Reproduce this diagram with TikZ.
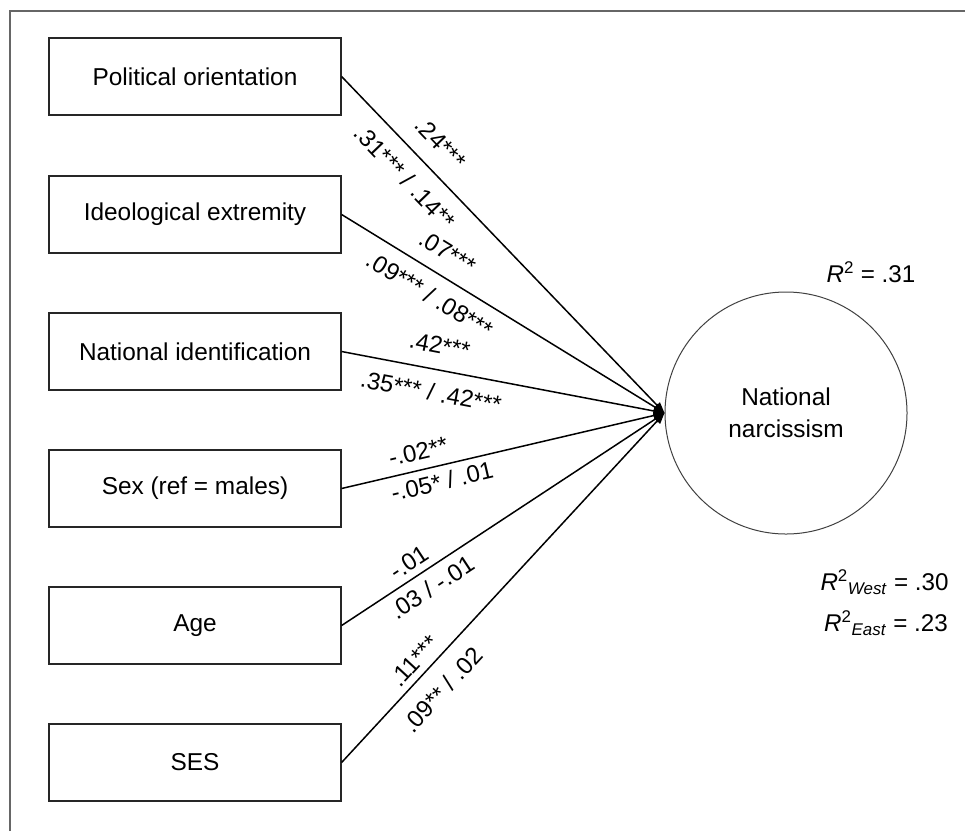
\documentclass[tikz,border=0pt]{standalone}
\usepackage{fontspec}
\setmainfont{Liberation Sans}
\usetikzlibrary{arrows.meta}
\begin{document}
\begin{tikzpicture}[x=1pt,y=-1pt,
  box/.style={draw=black!85, line width=1.2pt, fill=white, minimum width=292pt, minimum height=77pt, inner sep=0pt, font=\fontsize{24.4}{29}\selectfont},
  conn/.style={line width=1.5pt, -{Triangle[length=11pt,width=8pt]}},
  lab/.style={sloped, inner sep=0pt, font=\fontsize{24}{29}\selectfont},
  rtxt/.style={inner sep=0pt, font=\fontsize{24.2}{29}\selectfont},
]
\useasboundingbox (0,0) rectangle (965,831);
\draw[black!60, line width=1.5pt] (10,831) -- (10,11) -- (965,11);

\node[box] (b1) at (195,76.5) {Political orientation};
\node[box] (b2) at (195,214.5) {Ideological extremity};
\node[box] (b3) at (195,351.5) {National identification};
\node[box] (b4) at (195,488.5) {Sex (ref = males)};
\node[box] (b5) at (195,625.5) {Age};
\node[box] (b6) at (195,762.5) {SES};

\node[circle, draw=black!75, line width=1pt, minimum size=242pt, inner sep=0pt, align=center, font=\fontsize{24.4}{32}\selectfont] (nn) at (786,413) {National\\narcissism};

\draw[conn] (b1.east) -- (nn.west)
  node[lab, pos=.25, above, outer sep=17pt] {.24***}
  node[lab, pos=.25, below, outer sep=15pt] {.31*** / .14**};
\draw[conn] (b2.east) -- (nn.west)
  node[lab, pos=.29, above, outer sep=15pt] {.07***}
  node[lab, pos=.31, below, outer sep=13pt] {.09*** / .08***};
\draw[conn] (b3.east) -- (nn.west)
  node[lab, pos=.29, above, outer sep=16pt] {.42***}
  node[lab, pos=.29, below, outer sep=14pt] {.35*** / .42***};
\draw[conn] (b4.east) -- (nn.west)
  node[lab, pos=.25, above, outer sep=10pt] {-.02**}
  node[lab, pos=.30, below, outer sep=7pt] {-.05* / .01};
\draw[conn] (b5.east) -- (nn.west)
  node[lab, pos=.236, above, outer sep=7pt] {-.01}
  node[lab, pos=.25, below, outer sep=9pt] {.03 / -.01};
\draw[conn] (b6.east) -- (nn.west)
  node[lab, pos=.26, above, outer sep=7pt] {.11***}
  node[lab, pos=.256, below, outer sep=16pt] {.09** / .02};

\node[rtxt] (r2) at (871,272) {\textit{R}\textsuperscript{2} = .31};
\node[rtxt] (r2w) at (884.5,582) {\textit{R}\textsuperscript{2}\textsubscript{\textit{West}} = .30};
\node[rtxt] (r2e) at (886,623) {\textit{R}\textsuperscript{2}\textsubscript{\textit{East}} = .23};
\end{tikzpicture}
\end{document}
